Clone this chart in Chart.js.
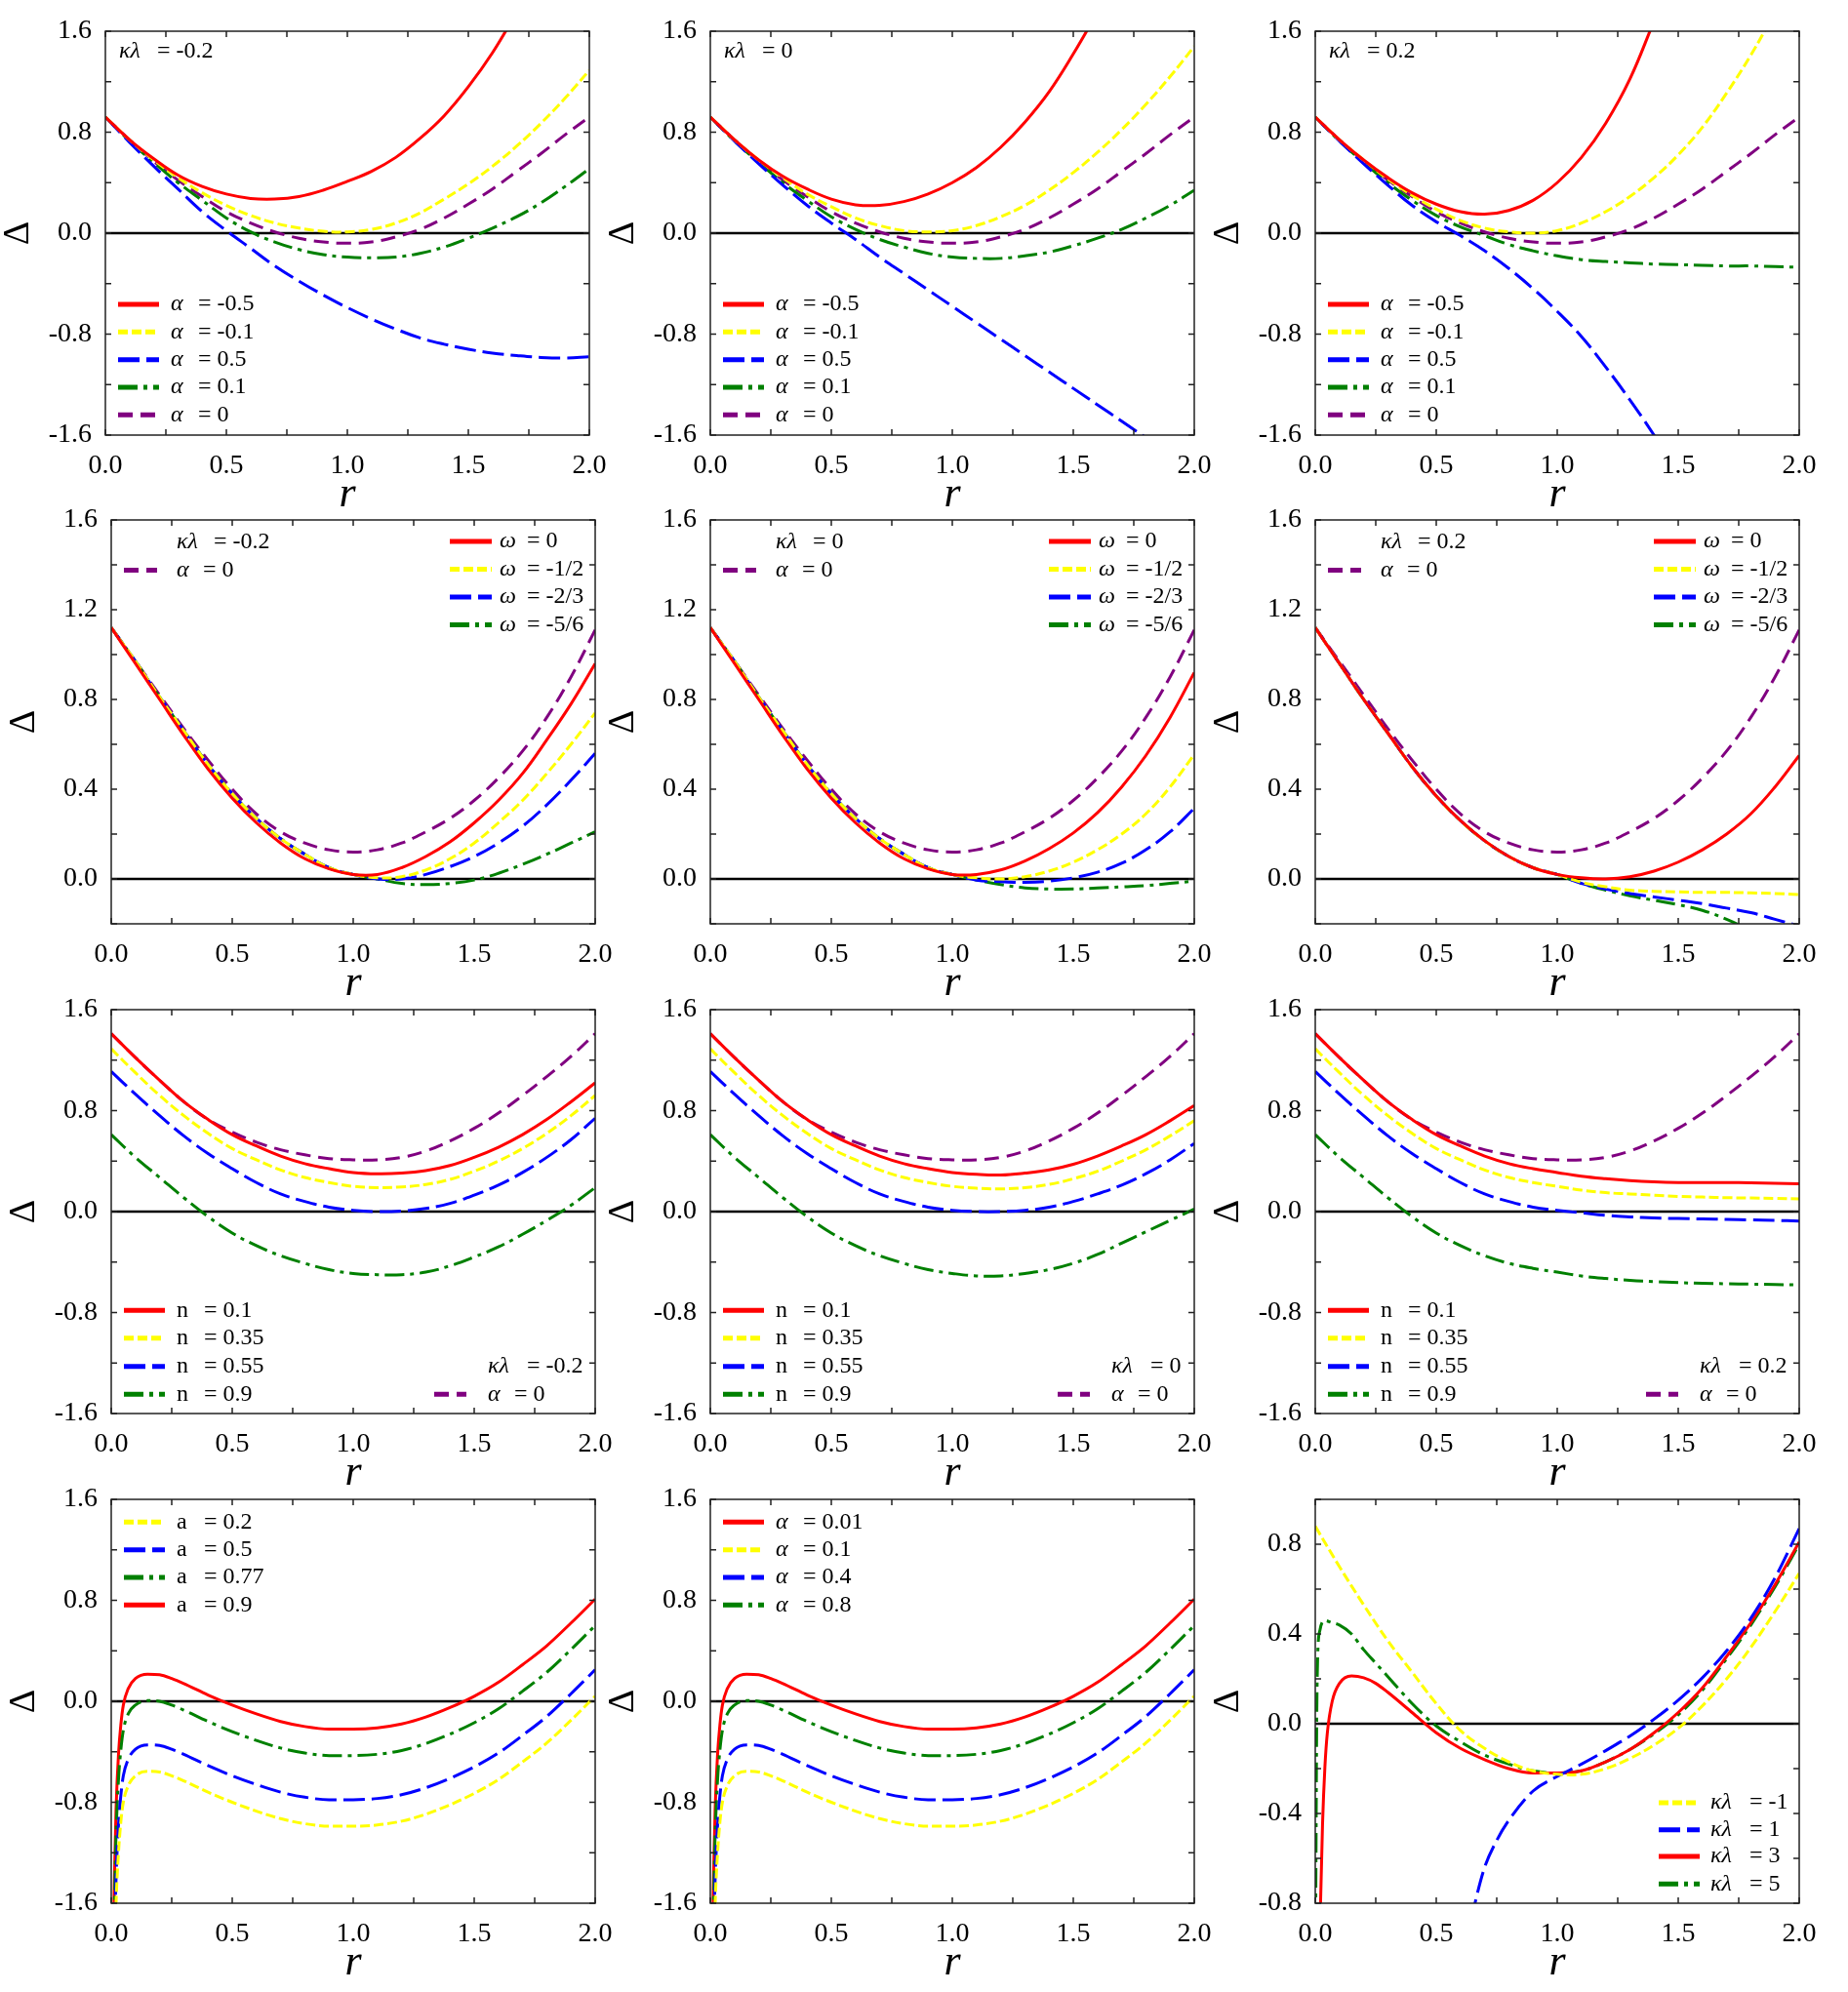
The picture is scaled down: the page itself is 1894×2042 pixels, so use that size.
<!DOCTYPE html>
<html>
<head>
<meta charset="utf-8">
<script src="https://cdn.jsdelivr.net/npm/chart.js@4.4.1/dist/chart.umd.min.js"></script>
<style>
  html, body { margin: 0; background: #fff; }
  #fig { position: relative; width: 1894px; height: 2042px; background: #fff; }
  .panel { position: absolute; }
</style>
</head>
<body>
<div id="fig"></div>
<script>
// ---------- data (r values and Δ curves) ----------
const R21 = [0, 0.1, 0.2, 0.3, 0.4, 0.5, 0.6, 0.7, 0.8, 0.9, 1.0, 1.1, 1.2, 1.3, 1.4, 1.5, 1.6, 1.7, 1.8, 1.9, 2.0];
const R4  = [0.005, 0.01, 0.015, 0.02, 0.03, 0.04, 0.05, 0.07, 0.1, 0.15, 0.2, 0.25, 0.3, 0.4, 0.5, 0.6, 0.7, 0.8, 0.9, 1.0, 1.1, 1.2, 1.3, 1.4, 1.5, 1.6, 1.7, 1.8, 1.9, 2.0];
const ZERO_X = [0, 2];
const ZERO_Y = [0, 0];

// row 1 : alpha series, kappa*lambda = -0.2 / 0 / 0.2
const alpha0Row1 = [0.92, 0.74, 0.57, 0.42, 0.29, 0.17, 0.08, 0.01, -0.04, -0.07, -0.08, -0.07, -0.03, 0.03, 0.12, 0.23, 0.35, 0.49, 0.63, 0.78, 0.92];
const p1Red    = [0.92, 0.74, 0.59, 0.46, 0.37, 0.31, 0.275, 0.27, 0.29, 0.34, 0.41, 0.49, 0.60, 0.75, 0.93, 1.16, 1.43, 1.75];
const p1Yellow = [0.92, 0.74, 0.58, 0.44, 0.32, 0.22, 0.14, 0.08, 0.04, 0.015, 0.01, 0.03, 0.08, 0.16, 0.27, 0.39, 0.53, 0.69, 0.87, 1.07, 1.29];
const p1Blue   = [0.92, 0.72, 0.53, 0.35, 0.17, 0.02, -0.12, -0.26, -0.38, -0.49, -0.59, -0.68, -0.76, -0.83, -0.88, -0.92, -0.95, -0.97, -0.985, -0.99, -0.98];
const p1Green  = [0.92, 0.73, 0.56, 0.40, 0.26, 0.12, 0.01, -0.07, -0.13, -0.17, -0.19, -0.195, -0.19, -0.16, -0.11, -0.04, 0.04, 0.13, 0.24, 0.37, 0.51];

const p2Red    = [0.92, 0.74, 0.58, 0.45, 0.35, 0.27, 0.225, 0.22, 0.25, 0.31, 0.40, 0.52, 0.68, 0.88, 1.12, 1.42, 1.75];
const p2Yellow = [0.92, 0.74, 0.58, 0.44, 0.31, 0.21, 0.12, 0.06, 0.02, 0.01, 0.02, 0.06, 0.13, 0.22, 0.34, 0.48, 0.64, 0.82, 1.02, 1.24, 1.48];
const p2Blue   = [0.92, 0.73, 0.55, 0.38, 0.22, 0.08, -0.05, -0.19, -0.32, -0.45, -0.58, -0.71, -0.84, -0.97, -1.10, -1.23, -1.36, -1.49, -1.62, -1.75];
const p2Green  = [0.92, 0.73, 0.56, 0.40, 0.26, 0.13, 0.03, -0.05, -0.11, -0.16, -0.19, -0.20, -0.20, -0.18, -0.15, -0.10, -0.04, 0.03, 0.12, 0.22, 0.34];

const p3Red    = [0.92, 0.74, 0.58, 0.44, 0.32, 0.23, 0.17, 0.15, 0.18, 0.26, 0.40, 0.60, 0.87, 1.22, 1.68];
const p3Yellow = [0.92, 0.74, 0.58, 0.43, 0.30, 0.19, 0.10, 0.04, 0.01, 0.00, 0.02, 0.08, 0.17, 0.29, 0.44, 0.62, 0.84, 1.11, 1.41, 1.75];
const p3Blue   = [0.92, 0.73, 0.55, 0.38, 0.22, 0.09, -0.02, -0.14, -0.28, -0.44, -0.62, -0.82, -1.06, -1.32, -1.60, -1.90];
const p3Green  = [0.92, 0.73, 0.56, 0.40, 0.26, 0.14, 0.05, -0.02, -0.09, -0.14, -0.18, -0.21, -0.225, -0.235, -0.245, -0.25, -0.255, -0.26, -0.26, -0.265, -0.27];

// row 2 : omega series
const alpha0Row2 = [1.12, 0.97, 0.82, 0.67, 0.53, 0.40, 0.29, 0.21, 0.16, 0.13, 0.12, 0.13, 0.16, 0.21, 0.27, 0.35, 0.45, 0.57, 0.72, 0.90, 1.11];
const p4Red    = [1.12, 0.96, 0.80, 0.64, 0.49, 0.36, 0.25, 0.16, 0.09, 0.045, 0.02, 0.02, 0.05, 0.10, 0.165, 0.25, 0.35, 0.47, 0.62, 0.78, 0.96];
const p4Yellow = [1.12, 0.97, 0.81, 0.66, 0.51, 0.38, 0.27, 0.18, 0.11, 0.05, 0.02, 0.005, 0.01, 0.04, 0.09, 0.16, 0.25, 0.35, 0.47, 0.60, 0.74];
const p4Blue   = [1.12, 0.97, 0.81, 0.66, 0.51, 0.38, 0.27, 0.18, 0.11, 0.05, 0.02, 0.00, 0.00, 0.02, 0.055, 0.10, 0.16, 0.235, 0.33, 0.44, 0.56];
const p4Green  = [1.12, 0.97, 0.81, 0.66, 0.51, 0.38, 0.27, 0.18, 0.11, 0.05, 0.02, 0.00, -0.02, -0.025, -0.02, -0.005, 0.025, 0.065, 0.11, 0.16, 0.21];

const p5Red    = [1.12, 0.96, 0.80, 0.64, 0.49, 0.36, 0.25, 0.16, 0.09, 0.045, 0.02, 0.02, 0.04, 0.08, 0.135, 0.205, 0.295, 0.41, 0.55, 0.72, 0.92];
const p5Yellow = [1.12, 0.97, 0.81, 0.66, 0.51, 0.38, 0.27, 0.18, 0.11, 0.05, 0.02, 0.005, 0.00, 0.01, 0.035, 0.075, 0.13, 0.20, 0.29, 0.41, 0.555];
const p5Blue   = [1.12, 0.97, 0.81, 0.66, 0.51, 0.38, 0.27, 0.18, 0.11, 0.05, 0.02, -0.005, -0.012, -0.015, -0.01, 0.005, 0.03, 0.07, 0.13, 0.21, 0.315];
const p5Green  = [1.12, 0.97, 0.81, 0.66, 0.51, 0.38, 0.27, 0.18, 0.11, 0.05, 0.02, -0.005, -0.025, -0.04, -0.045, -0.045, -0.04, -0.035, -0.03, -0.02, -0.01];

const p6Red    = [1.12, 0.96, 0.80, 0.65, 0.50, 0.37, 0.26, 0.17, 0.10, 0.05, 0.02, 0.005, 0.00, 0.01, 0.035, 0.075, 0.13, 0.20, 0.29, 0.41, 0.55];
const p6Yellow = [1.12, 0.96, 0.80, 0.65, 0.50, 0.37, 0.26, 0.17, 0.10, 0.05, 0.02, -0.015, -0.035, -0.05, -0.055, -0.058, -0.06, -0.06, -0.062, -0.065, -0.07];
const p6Blue   = [1.12, 0.96, 0.80, 0.65, 0.50, 0.37, 0.26, 0.17, 0.10, 0.05, 0.02, -0.02, -0.045, -0.065, -0.08, -0.095, -0.11, -0.13, -0.15, -0.18, -0.21];
const p6Green  = [1.12, 0.96, 0.80, 0.65, 0.50, 0.37, 0.26, 0.17, 0.10, 0.05, 0.02, -0.02, -0.05, -0.075, -0.095, -0.115, -0.14, -0.18, -0.23];

// row 3 : n series
const alpha0Row3 = [1.41, 1.22, 1.04, 0.87, 0.73, 0.63, 0.55, 0.49, 0.45, 0.42, 0.41, 0.41, 0.43, 0.48, 0.56, 0.66, 0.78, 0.92, 1.07, 1.23, 1.41];
const p7Red    = [1.41, 1.22, 1.04, 0.87, 0.73, 0.61, 0.52, 0.44, 0.38, 0.34, 0.31, 0.30, 0.305, 0.325, 0.365, 0.43, 0.51, 0.61, 0.73, 0.87, 1.02];
const p7Yellow = [1.29, 1.10, 0.92, 0.76, 0.62, 0.50, 0.41, 0.33, 0.27, 0.23, 0.20, 0.19, 0.195, 0.215, 0.255, 0.32, 0.40, 0.50, 0.62, 0.76, 0.92];
const p7Blue   = [1.11, 0.93, 0.76, 0.60, 0.46, 0.34, 0.23, 0.14, 0.08, 0.035, 0.01, 0.00, 0.005, 0.025, 0.065, 0.13, 0.21, 0.31, 0.43, 0.57, 0.74];
const p7Green  = [0.61, 0.43, 0.27, 0.11, -0.04, -0.17, -0.27, -0.35, -0.41, -0.46, -0.49, -0.50, -0.50, -0.48, -0.43, -0.36, -0.28, -0.18, -0.07, 0.05, 0.19];

const p8Red    = [1.41, 1.22, 1.04, 0.87, 0.73, 0.61, 0.52, 0.44, 0.38, 0.34, 0.31, 0.295, 0.29, 0.305, 0.33, 0.375, 0.44, 0.52, 0.61, 0.72, 0.84];
const p8Yellow = [1.29, 1.10, 0.92, 0.76, 0.62, 0.50, 0.41, 0.33, 0.27, 0.23, 0.20, 0.185, 0.18, 0.19, 0.215, 0.26, 0.32, 0.40, 0.49, 0.60, 0.72];
const p8Blue   = [1.11, 0.93, 0.76, 0.60, 0.46, 0.34, 0.23, 0.14, 0.08, 0.035, 0.01, 0.00, 0.00, 0.01, 0.035, 0.08, 0.14, 0.21, 0.30, 0.41, 0.54];
const p8Green  = [0.61, 0.43, 0.27, 0.11, -0.04, -0.17, -0.27, -0.35, -0.41, -0.46, -0.49, -0.51, -0.51, -0.49, -0.46, -0.41, -0.34, -0.25, -0.16, -0.07, 0.02];

const p9Red    = [1.41, 1.22, 1.04, 0.87, 0.73, 0.61, 0.52, 0.44, 0.38, 0.34, 0.31, 0.28, 0.26, 0.245, 0.235, 0.23, 0.23, 0.23, 0.228, 0.225, 0.22];
const p9Yellow = [1.29, 1.10, 0.92, 0.76, 0.62, 0.50, 0.41, 0.33, 0.27, 0.23, 0.20, 0.17, 0.15, 0.14, 0.13, 0.12, 0.115, 0.11, 0.108, 0.105, 0.10];
const p9Blue   = [1.11, 0.93, 0.76, 0.60, 0.46, 0.34, 0.23, 0.14, 0.08, 0.035, 0.01, -0.01, -0.03, -0.042, -0.05, -0.055, -0.058, -0.062, -0.066, -0.07, -0.075];
const p9Green  = [0.61, 0.43, 0.27, 0.11, -0.04, -0.17, -0.27, -0.35, -0.41, -0.45, -0.48, -0.51, -0.53, -0.545, -0.555, -0.563, -0.568, -0.572, -0.575, -0.578, -0.58];

// row 4 : a series (left) and alpha series (middle) look the same
const aRed    = [-4, -1.9, -1.25, -0.85, -0.42, -0.18, -0.03, 0.10, 0.18, 0.215, 0.21, 0.18, 0.14, 0.05, -0.03, -0.10, -0.16, -0.20, -0.22, -0.22, -0.21, -0.18, -0.125, -0.05, 0.04, 0.15, 0.29, 0.44, 0.62, 0.81];
const aGreen  = [-4, -2.1, -1.45, -1.05, -0.62, -0.38, -0.23, -0.10, -0.03, 0.005, 0.00, -0.03, -0.07, -0.16, -0.24, -0.31, -0.37, -0.41, -0.43, -0.43, -0.42, -0.39, -0.335, -0.26, -0.17, -0.06, 0.08, 0.23, 0.41, 0.60];
const aBlue   = [-4, -2.4, -1.8, -1.4, -0.98, -0.74, -0.59, -0.46, -0.38, -0.345, -0.35, -0.38, -0.42, -0.51, -0.59, -0.66, -0.72, -0.76, -0.78, -0.78, -0.77, -0.74, -0.685, -0.61, -0.52, -0.41, -0.27, -0.12, 0.06, 0.25];
const aYellow = [-4, -2.6, -2.0, -1.6, -1.2, -0.95, -0.80, -0.67, -0.59, -0.555, -0.56, -0.59, -0.63, -0.72, -0.80, -0.87, -0.93, -0.97, -0.99, -0.99, -0.98, -0.95, -0.895, -0.82, -0.73, -0.62, -0.48, -0.33, -0.15, 0.04];

// last panel : kappa*lambda series
const klYellow = [0.88, 0.70, 0.53, 0.37, 0.23, 0.09, -0.03, -0.11, -0.17, -0.21, -0.225, -0.225, -0.20, -0.155, -0.095, -0.02, 0.08, 0.20, 0.34, 0.50, 0.67];
const klRed    = [-3, -1.9, -1.25, -0.88, -0.45, -0.19, -0.04, 0.10, 0.18, 0.213, 0.205, 0.18, 0.14, 0.05, -0.04, -0.11, -0.16, -0.20, -0.22, -0.22, -0.21, -0.17, -0.115, -0.04, 0.05, 0.16, 0.30, 0.45, 0.62, 0.81];
const klBlueR  = [0.62, 0.66, 0.7, 0.75, 0.8, 0.9, 1.0, 1.1, 1.2, 1.3, 1.4, 1.5, 1.6, 1.7, 1.8, 1.9, 2.0];
const klBlue   = [-1.0, -0.80, -0.64, -0.52, -0.43, -0.30, -0.235, -0.18, -0.12, -0.055, 0.02, 0.105, 0.205, 0.325, 0.47, 0.65, 0.87];
const klGreenR = [0, 0.003, 0.006, 0.01, 0.02, 0.04, 0.07, 0.1, 0.15, 0.2, 0.25, 0.3, 0.4, 0.5, 0.6, 0.7, 0.8, 0.9, 1.0, 1.1, 1.2, 1.3, 1.4, 1.5, 1.6, 1.7, 1.8, 1.9, 2.0];
const klGreen  = [-1.2, -0.6, 0.0, 0.30, 0.42, 0.46, 0.45, 0.44, 0.40, 0.33, 0.27, 0.21, 0.09, -0.01, -0.08, -0.14, -0.18, -0.21, -0.22, -0.21, -0.17, -0.115, -0.045, 0.04, 0.15, 0.29, 0.44, 0.61, 0.80];

// ---------- styles ----------
const SERIF = '"Liberation Serif", "Times New Roman", "DejaVu Serif", serif';
const STY = {
  red:    { c: '#ff0000', d: [] },
  yellow: { c: '#ffff00', d: [10, 4] },
  blue:   { c: '#0000ff', d: [22, 7] },
  green:  { c: '#008000', d: [20, 6, 4, 6] },
  purple: { c: '#800080', d: [15, 8] }
};

const PAD_L = 110, PAD_T = 15, PAD_R = 30, PAD_B = 90, PW = 496, PH = 414;

const pts = (xs, ys) => ys.map((y, i) => ({ x: xs[i], y }));
// evenly spaced curves get a plain spline, the steep ones near r = 0 keep monotone splines
const curve = (xs, ys, s) => {
  const ds = {
    data: pts(xs, ys), borderColor: STY[s].c, borderDash: STY[s].d, borderWidth: 3,
    pointRadius: 0, fill: false
  };
  if (xs === R21) ds.tension = 0.4;
  else ds.cubicInterpolationMode = 'monotone';
  return ds;
};
const zeroLine = () => ({ data: pts(ZERO_X, ZERO_Y), borderColor: '#000', borderWidth: 2.5, pointRadius: 0, order: 99 });

// legend entry: y offset, style, symbol, value, sample x0/x1, text x, '=' offset
const ent = (y, s, sym, val, sx0, sx1, tx, eq, italic) => ({ y, s, sym, val, sx0, sx1, tx, eq, italic });
const L = (y, s, sym, val, it) => ent(y, s, sym, val, 13, 55, 67, 28, it);
const R = (y, s, sym, val) => ent(y, s, sym, val, 347, 390, 398, 28, true);

const rowA = kl => [
  ent(21, null, 'κλ', kl, 0, 0, 14, 39, true),
  L(280, 'red', 'α', '-0.5', true), L(308.3, 'yellow', 'α', '-0.1', true),
  L(336.7, 'blue', 'α', '0.5', true), L(365, 'green', 'α', '0.1', true), L(393.3, 'purple', 'α', '0', true)
];
const rowB = kl => [
  ent(23, null, 'κλ', kl, 0, 0, 67, 38, true),
  ent(51.5, 'purple', 'α', '0', 13, 47, 67, 27, true),
  R(22, 'red', 'ω', '0'), R(50.5, 'yellow', 'ω', '-1/2'), R(79, 'blue', 'ω', '-2/3'), R(107.5, 'green', 'ω', '-5/6')
];
const rowC = (kl, col) => [
  L(308.3, 'red', 'n', '0.1', false), L(336.7, 'yellow', 'n', '0.35', false),
  L(365.7, 'blue', 'n', '0.55', false), L(394.3, 'green', 'n', '0.9', false),
  ent(365.7, null, 'κλ', kl, 0, 0, col, 40, true),
  ent(394.3, 'purple', 'α', '0', col - 55, col - 22, col, 27, true)
];

const PANELS = [
  { left: 108,  top: 32,   y: [-1.6, 1.6, 0.4, 0.8], series: [[R21, p1Red, 'red'], [R21, p1Yellow, 'yellow'], [R21, p1Blue, 'blue'], [R21, p1Green, 'green'], [R21, alpha0Row1, 'purple']], legend: rowA('-0.2') },
  { left: 728,  top: 32,   y: [-1.6, 1.6, 0.4, 0.8], series: [[R21, p2Red, 'red'], [R21, p2Yellow, 'yellow'], [R21, p2Blue, 'blue'], [R21, p2Green, 'green'], [R21, alpha0Row1, 'purple']], legend: rowA('0') },
  { left: 1348, top: 32,   y: [-1.6, 1.6, 0.4, 0.8], series: [[R21, p3Red, 'red'], [R21, p3Yellow, 'yellow'], [R21, p3Blue, 'blue'], [R21, p3Green, 'green'], [R21, alpha0Row1, 'purple']], legend: rowA('0.2') },
  { left: 114,  top: 533,  y: [-0.2, 1.6, 0.2, 0.4], series: [[R21, p4Red, 'red'], [R21, p4Yellow, 'yellow'], [R21, p4Blue, 'blue'], [R21, p4Green, 'green'], [R21, alpha0Row2, 'purple']], legend: rowB('-0.2') },
  { left: 728,  top: 533,  y: [-0.2, 1.6, 0.2, 0.4], series: [[R21, p5Red, 'red'], [R21, p5Yellow, 'yellow'], [R21, p5Blue, 'blue'], [R21, p5Green, 'green'], [R21, alpha0Row2, 'purple']], legend: rowB('0') },
  { left: 1348, top: 533,  y: [-0.2, 1.6, 0.2, 0.4], series: [[R21, p6Red, 'red'], [R21, p6Yellow, 'yellow'], [R21, p6Blue, 'blue'], [R21, p6Green, 'green'], [R21, alpha0Row2, 'purple']], legend: rowB('0.2') },
  { left: 114,  top: 1035, y: [-1.6, 1.6, 0.4, 0.8], series: [[R21, p7Red, 'red'], [R21, p7Yellow, 'yellow'], [R21, p7Blue, 'blue'], [R21, p7Green, 'green'], [R21, alpha0Row3, 'purple']], legend: rowC('-0.2', 386) },
  { left: 728,  top: 1035, y: [-1.6, 1.6, 0.4, 0.8], series: [[R21, p8Red, 'red'], [R21, p8Yellow, 'yellow'], [R21, p8Blue, 'blue'], [R21, p8Green, 'green'], [R21, alpha0Row3, 'purple']], legend: rowC('0', 411) },
  { left: 1348, top: 1035, y: [-1.6, 1.6, 0.4, 0.8], series: [[R21, p9Red, 'red'], [R21, p9Yellow, 'yellow'], [R21, p9Blue, 'blue'], [R21, p9Green, 'green'], [R21, alpha0Row3, 'purple']], legend: rowC('0.2', 394) },
  { left: 114,  top: 1537, y: [-1.6, 1.6, 0.4, 0.8], series: [[R4, aYellow, 'yellow'], [R4, aBlue, 'blue'], [R4, aGreen, 'green'], [R4, aRed, 'red']],
    legend: [L(23.3, 'yellow', 'a', '0.2', false), L(51.7, 'blue', 'a', '0.5', false), L(80, 'green', 'a', '0.77', false), L(108.3, 'red', 'a', '0.9', false)] },
  { left: 728,  top: 1537, y: [-1.6, 1.6, 0.4, 0.8], series: [[R4, aYellow, 'yellow'], [R4, aBlue, 'blue'], [R4, aGreen, 'green'], [R4, aRed, 'red']],
    legend: [L(23.3, 'red', 'α', '0.01', true), L(51.7, 'yellow', 'α', '0.1', true), L(80, 'blue', 'α', '0.4', true), L(108.3, 'green', 'α', '0.8', true)] },
  { left: 1348, top: 1537, y: [-0.8, 1.0, 0.2, 0.4], series: [[R21, klYellow, 'yellow'], [klBlueR, klBlue, 'blue'], [R4, klRed, 'red'], [klGreenR, klGreen, 'green']],
    legend: [ent(311, 'yellow', 'κλ', '-1', 352, 394, 405, 40, true), ent(338.7, 'blue', 'κλ', '1', 352, 394, 405, 40, true),
             ent(366, 'red', 'κλ', '3', 352, 394, 405, 40, true), ent(394.3, 'green', 'κλ', '5', 352, 394, 405, 40, true)] }
];

const isMult = (v, m) => Math.abs(v / m - Math.round(v / m)) < 1e-6;

// frame, inward ticks on all sides, legends
const decor = {
  id: 'decor',
  afterDatasetsDraw(chart, args, opts) {
    const ctx = chart.ctx, a = chart.chartArea;
    const xs = chart.scales.x, ys = chart.scales.y;
    ctx.save();
    ctx.strokeStyle = '#222';
    ctx.lineWidth = 1.5;
    ctx.setLineDash([]);
    ctx.beginPath();
    xs.ticks.forEach(t => {
      const p = xs.getPixelForValue(t.value);
      ctx.moveTo(p, a.bottom); ctx.lineTo(p, a.bottom - 6);
      ctx.moveTo(p, a.top); ctx.lineTo(p, a.top + 6);
    });
    ys.ticks.forEach(t => {
      const p = ys.getPixelForValue(t.value);
      ctx.moveTo(a.left, p); ctx.lineTo(a.left + 6, p);
      ctx.moveTo(a.right, p); ctx.lineTo(a.right - 6, p);
    });
    ctx.stroke();
    ctx.strokeRect(a.left, a.top, a.right - a.left, a.bottom - a.top);

    (opts.entries || []).forEach(e => {
      const y = a.top + e.y;
      if (e.s) {
        ctx.beginPath();
        ctx.strokeStyle = STY[e.s].c;
        ctx.setLineDash(STY[e.s].d);
        ctx.lineWidth = 5;
        ctx.lineCap = 'butt';
        ctx.moveTo(a.left + e.sx0, y);
        ctx.lineTo(a.left + e.sx1, y);
        ctx.stroke();
      }
      ctx.fillStyle = '#000';
      ctx.textBaseline = 'middle';
      ctx.textAlign = 'left';
      ctx.font = (e.italic ? 'italic ' : '') + '24px ' + SERIF;
      ctx.fillText(e.sym, a.left + e.tx, y);
      ctx.font = '24px ' + SERIF;
      ctx.fillText('= ' + e.val, a.left + e.tx + e.eq, y);
    });
    ctx.restore();
  }
};

const fig = document.getElementById('fig');

PANELS.forEach(pnl => {
  const div = document.createElement('div');
  div.className = 'panel';
  div.style.left = (pnl.left - PAD_L) + 'px';
  div.style.top = (pnl.top - PAD_T) + 'px';
  div.style.width = (PW + PAD_L + PAD_R) + 'px';
  div.style.height = (PH + PAD_T + PAD_B) + 'px';
  const canvas = document.createElement('canvas');
  div.appendChild(canvas);
  fig.appendChild(div);

  const [ymin, ymax, ystep, ylab] = pnl.y;
  const datasets = pnl.series.map(([xs, ys, s]) => curve(xs, ys, s));
  datasets.push(zeroLine());

  new Chart(canvas, {
    type: 'line',
    data: { datasets },
    plugins: [decor],
    options: {
      responsive: true,
      maintainAspectRatio: false,
      animation: false,
      events: [],
      layout: { padding: { left: 0, top: PAD_T, right: PAD_R, bottom: 0 } },
      plugins: {
        legend: { display: false },
        tooltip: { enabled: false },
        decor: { entries: pnl.legend }
      },
      scales: {
        x: {
          type: 'linear', min: 0, max: 2,
          grid: { display: false, drawTicks: false },
          border: { display: false },
          ticks: {
            stepSize: 0.25, autoSkip: false, maxRotation: 0, padding: 15, color: '#000',
            font: { family: SERIF, size: 28 },
            callback: v => isMult(v, 0.5) ? v.toFixed(1) : ''
          },
          title: {
            display: true, text: 'r', color: '#000',
            font: { family: SERIF, size: 44, style: 'italic', lineHeight: 1 },
            padding: { top: 0, bottom: 7 }
          },
          afterFit: s => { s.height = PAD_B; s.paddingLeft = 0; s.paddingRight = 0; }
        },
        y: {
          type: 'linear', min: ymin, max: ymax,
          grid: { display: false, drawTicks: false },
          border: { display: false },
          ticks: {
            stepSize: ystep, autoSkip: false, padding: 14, color: '#000',
            font: { family: SERIF, size: 28 },
            callback: v => isMult(v, ylab) ? (Math.abs(v) < 1e-9 ? 0 : v).toFixed(1) : ''
          },
          title: {
            display: true, text: 'Δ', color: '#000',
            font: { family: SERIF, size: 38, lineHeight: 1 },
            padding: { top: 2, bottom: 0 }
          },
          afterFit: s => { s.width = PAD_L; s.paddingTop = 0; s.paddingBottom = 0; }
        }
      }
    }
  });
});
</script>
</body>
</html>
